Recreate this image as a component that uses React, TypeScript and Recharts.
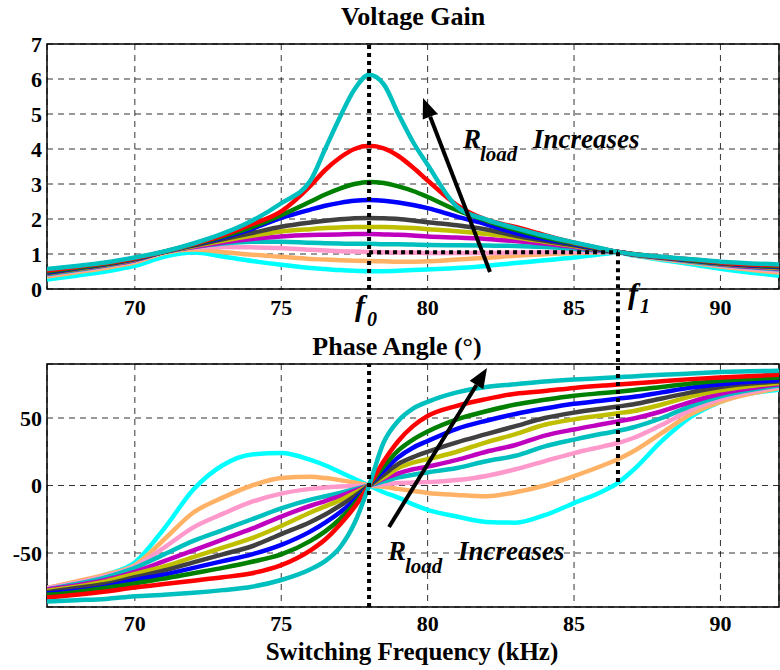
import React from 'react';
import { LineChart, Line, XAxis, YAxis, CartesianGrid, ReferenceLine, ReferenceArea } from 'recharts';

// switching frequency samples (kHz)
const freq = [67, 68, 69, 70, 71, 72, 73, 74, 75, 76, 76.5, 77, 77.5, 78, 78.5, 79, 79.5, 80, 81, 82, 83, 84, 85, 86, 86.5, 87, 88, 89, 90, 92];

// voltage gain, one array per load (largest R_load first)
const gain1 = [0.57, 0.66, 0.76, 0.9, 1.07, 1.3, 1.58, 1.95, 2.45, 3.1, 4.0, 4.9, 5.7, 6.12, 5.85, 5.0, 4.2, 3.55, 2.35, 1.98, 1.74, 1.52, 1.33, 1.15, 1.06, 1.0, 0.92, 0.85, 0.78, 0.7];
const gain2 = [0.53, 0.63, 0.74, 0.88, 1.06, 1.28, 1.53, 1.85, 2.22, 2.95, 3.4, 3.75, 4.0, 4.09, 4.02, 3.8, 3.47, 3.1, 2.4, 1.98, 1.77, 1.54, 1.32, 1.14, 1.06, 1.0, 0.91, 0.84, 0.76, 0.67];
const gain3 = [0.5, 0.61, 0.72, 0.87, 1.06, 1.27, 1.5, 1.77, 2.11, 2.5, 2.7, 2.87, 3.0, 3.06, 3.03, 2.93, 2.8, 2.63, 2.25, 1.95, 1.69, 1.48, 1.3, 1.13, 1.06, 1.0, 0.91, 0.83, 0.75, 0.65];
const gain4 = [0.48, 0.6, 0.71, 0.86, 1.06, 1.26, 1.47, 1.72, 2.03, 2.27, 2.38, 2.46, 2.52, 2.54, 2.52, 2.47, 2.4, 2.31, 2.07, 1.85, 1.6, 1.43, 1.28, 1.12, 1.06, 0.99, 0.9, 0.82, 0.74, 0.63];
const gain5 = [0.46, 0.58, 0.7, 0.85, 1.06, 1.24, 1.42, 1.6, 1.78, 1.9, 1.95, 1.99, 2.02, 2.03, 2.02, 2.0, 1.96, 1.91, 1.82, 1.7, 1.52, 1.38, 1.25, 1.11, 1.06, 0.99, 0.9, 0.81, 0.73, 0.62];
const gain6 = [0.45, 0.57, 0.69, 0.84, 1.06, 1.22, 1.38, 1.52, 1.64, 1.71, 1.74, 1.76, 1.77, 1.77, 1.77, 1.76, 1.74, 1.71, 1.65, 1.57, 1.47, 1.35, 1.23, 1.1, 1.06, 0.99, 0.89, 0.8, 0.72, 0.6];
const gain7 = [0.44, 0.56, 0.68, 0.83, 1.06, 1.2, 1.33, 1.43, 1.5, 1.54, 1.55, 1.56, 1.57, 1.57, 1.56, 1.55, 1.53, 1.5, 1.47, 1.43, 1.37, 1.3, 1.2, 1.09, 1.06, 0.99, 0.89, 0.8, 0.71, 0.58];
const gain8 = [0.42, 0.54, 0.67, 0.82, 1.06, 1.2, 1.3, 1.35, 1.35, 1.32, 1.31, 1.3, 1.29, 1.29, 1.28, 1.28, 1.27, 1.26, 1.25, 1.24, 1.23, 1.2, 1.15, 1.08, 1.06, 0.98, 0.88, 0.78, 0.69, 0.56];
const gain9 = [0.4, 0.52, 0.65, 0.8, 1.05, 1.18, 1.2, 1.19, 1.17, 1.12, 1.1, 1.08, 1.07, 1.06, 1.05, 1.04, 1.04, 1.03, 1.03, 1.03, 1.04, 1.05, 1.06, 1.06, 1.06, 0.98, 0.87, 0.77, 0.67, 0.52];
const gain10 = [0.36, 0.48, 0.6, 0.76, 1.03, 1.13, 1.06, 0.98, 0.92, 0.86, 0.84, 0.82, 0.81, 0.8, 0.79, 0.78, 0.78, 0.79, 0.84, 0.89, 0.95, 0.99, 1.03, 1.05, 1.06, 0.97, 0.86, 0.75, 0.64, 0.47];
const gain11 = [0.27, 0.38, 0.5, 0.66, 0.92, 1.04, 0.93, 0.8, 0.69, 0.6, 0.57, 0.54, 0.52, 0.51, 0.51, 0.52, 0.54, 0.56, 0.6, 0.66, 0.74, 0.82, 0.9, 1.0, 1.04, 0.96, 0.83, 0.71, 0.58, 0.38];

// phase angle in degrees, same order
const phase1 = [-86, -85, -84, -82, -81, -79.5, -77.5, -75, -70, -62, -56, -46, -28, 0, 32, 48, 57, 62, 69, 73, 75, 77, 78.5, 79.6, 80.2, 80.8, 82, 83, 84, 85];
const phase2 = [-83, -81, -78.5, -75.5, -73, -70.5, -68, -65, -59, -48, -40, -29, -16, 0, 18, 33, 44, 51.5, 59, 64, 68, 70, 72.3, 74, 74.8, 75.5, 77.2, 78.8, 80, 82];
const phase3 = [-81, -79, -76, -72.5, -69, -65, -61, -56.5, -51, -41, -34, -25, -13.5, 0, 14, 26, 34, 40, 49, 55, 60, 63.5, 66.5, 68.5, 69.5, 70.5, 73, 75.5, 77.5, 80];
const phase4 = [-80, -78, -75, -70, -66, -61, -56, -51, -44, -34, -27.5, -20, -11, 0, 11, 21, 28, 33, 42, 48, 53, 57, 60.5, 63, 64.3, 65.5, 69, 72.5, 75, 78];
const phase5 = [-79, -76, -73, -68, -63, -57, -51, -45, -36, -27, -21.5, -15, -8, 0, 8, 16, 21, 25, 32, 38, 44, 50, 54, 57, 58.5, 60, 64.5, 69, 73, 77];
const phase6 = [-78, -75, -71, -65.5, -60, -53, -46, -39, -30, -20, -15.5, -11, -5.5, 0, 6, 13, 17, 19.5, 25, 32, 38, 45, 49, 52, 53.5, 55, 60, 66, 70.5, 76];
const phase7 = [-77, -74, -70, -64, -56, -48, -40, -32, -23, -15, -11.5, -8, -4, 0, 5, 9, 12, 14, 19, 25, 30, 37, 41.5, 45.5, 47.5, 49.5, 55, 62, 68, 75];
const phase8 = [-77, -73, -68, -61, -51, -41, -33, -25, -17, -10.5, -8, -5.5, -2.8, 0, 3, 6, 8, 9.7, 13, 18, 22, 29, 34, 38.5, 40.5, 43, 50, 59, 66, 74];
const phase9 = [-76, -72, -67, -60, -46, -31, -21, -12, -6, -2.5, -1.5, -0.8, -0.3, 0, 1, 1.8, 2.2, 2.5, 4, 7, 12, 18, 24, 29, 31.5, 35, 45, 56, 64, 73];
const phase10 = [-76, -71, -66, -59, -40, -20, -9, 0, 5.5, 6.5, 5.5, 4, 2.2, 0, -1, -2.5, -4, -5.5, -7, -8, -5, 0, 7, 15, 19.5, 25, 39, 53, 62, 72];
const phase11 = [-76, -72, -66, -57, -32, -3, 15, 23, 24, 19, 15, 10, 5, 0, -5, -9, -14, -18, -23, -27, -27.5, -22, -13, -4, 2, 11, 33, 51, 62, 71];

const curveColors = ['#00BFBF', '#FF0000', '#008000', '#0000FF', '#404040', '#BFBF00', '#BF00BF', '#00BFBF', '#FF99CC', '#FFB266', '#00FFFF'];

const gainTicks = [0, 1, 2, 3, 4, 5, 6, 7];
const phaseTicks = [-50, 0, 50];
const freqTicks = [70, 75, 80, 85, 90];

const f0 = 78;
const f1 = 86.5;
const crossGain = 1.05;

const gainSets = [gain1, gain2, gain3, gain4, gain5, gain6, gain7, gain8, gain9, gain10, gain11];
const phaseSets = [phase1, phase2, phase3, phase4, phase5, phase6, phase7, phase8, phase9, phase10, phase11];

const gainRows = freq.map((f, i) => {
  const row: Record<string, number> = { f };
  gainSets.forEach((s, k) => { row[`c${k + 1}`] = s[i]; });
  return row;
});
const phaseRows = freq.map((f, i) => {
  const row: Record<string, number> = { f };
  phaseSets.forEach((s, k) => { row[`c${k + 1}`] = s[i]; });
  return row;
});

const serif = '"Liberation Serif", "Times New Roman", serif';
const tickStyle = { fill: '#000', fontSize: 22, fontWeight: 700, fontFamily: serif };
const dotted = { stroke: '#000', strokeWidth: 4, strokeDasharray: '4 4' };

// draw from last to first so the highest-gain curve sits on top
const drawOrder = curveColors.map((_, i) => curveColors.length - i);

function Arrow({ x1, y1, x2, y2 }: { x1: number; y1: number; x2: number; y2: number }) {
  const len = Math.hypot(x2 - x1, y2 - y1);
  const ux = (x2 - x1) / len;
  const uy = (y2 - y1) / len;
  const hl = 20;
  const hw = 8;
  const bx = x2 - ux * hl;
  const by = y2 - uy * hl;
  return (
    <g>
      <line x1={x1} y1={y1} x2={bx} y2={by} stroke="#000" strokeWidth={4} />
      <polygon points={`${x2},${y2} ${bx - uy * hw},${by + ux * hw} ${bx + uy * hw},${by - ux * hw}`} fill="#000" />
    </g>
  );
}

function RLoad({ x, y }: { x: number; y: number }) {
  return (
    <g fontFamily={serif} fontStyle="italic" fontWeight={700} fill="#000">
      <text x={x} y={y} fontSize={27}>R</text>
      <text x={x + 17} y={y + 13} fontSize={21}>load</text>
      <text x={x + 70} y={y} fontSize={27}>Increases</text>
    </g>
  );
}

export default function App() {
  return (
    <div style={{ position: 'absolute', left: 0, top: 0, width: 780, height: 670, background: '#fff' }}>
      <div style={{ position: 'absolute', left: 0, top: 0 }}>
        <LineChart width={780} height={320} data={gainRows} margin={{ top: 44, right: 1, bottom: 0, left: 7 }}>
          <CartesianGrid stroke="#000" strokeDasharray="6 5" strokeWidth={0.8} />
          <XAxis dataKey="f" type="number" domain={[67, 92]} ticks={freqTicks} height={31} tickLine={false} axisLine={false} tickSize={6} tickMargin={4} tick={tickStyle} allowDataOverflow />
          <YAxis type="number" domain={[0, 7]} ticks={gainTicks} width={40} tickLine={false} axisLine={false} tickSize={3} tickMargin={2} tick={tickStyle} allowDataOverflow />
          <ReferenceArea x1={67} x2={92} y1={0} y2={7} fill="none" stroke="#000" strokeWidth={1.5} />
          {drawOrder.map((n) => (
            <Line key={n} dataKey={`c${n}`} type="monotone" stroke={curveColors[n - 1]} strokeWidth={4.5} dot={false} isAnimationActive={false} />
          ))}
          <ReferenceLine x={f0} {...dotted} />
          <ReferenceLine segment={[{ x: f0, y: crossGain }, { x: f1, y: crossGain }]} {...dotted} />
          <ReferenceLine segment={[{ x: f1, y: crossGain }, { x: f1, y: -0.9 }]} ifOverflow="visible" {...dotted} />
        </LineChart>
      </div>
      <div style={{ position: 'absolute', left: 0, top: 320 }}>
        <LineChart width={780} height={350} data={phaseRows} margin={{ top: 44, right: 1, bottom: 32, left: 7 }}>
          <CartesianGrid stroke="#000" strokeDasharray="6 5" strokeWidth={0.8} />
          <XAxis dataKey="f" type="number" domain={[67, 92]} ticks={freqTicks} height={31} tickLine={false} axisLine={false} tickSize={6} tickMargin={2} tick={tickStyle} allowDataOverflow />
          <YAxis type="number" domain={[-90, 90]} ticks={phaseTicks} width={40} tickLine={false} axisLine={false} tickSize={3} tickMargin={2} tick={tickStyle} allowDataOverflow />
          <ReferenceArea x1={67} x2={92} y1={-90} y2={90} fill="none" stroke="#000" strokeWidth={1.5} />
          {drawOrder.map((n) => (
            <Line key={n} dataKey={`c${n}`} type="monotone" stroke={curveColors[n - 1]} strokeWidth={4.5} dot={false} isAnimationActive={false} />
          ))}
          <ReferenceLine x={f0} {...dotted} />
          <ReferenceLine segment={[{ x: f1, y: 124 }, { x: f1, y: 0 }]} ifOverflow="visible" {...dotted} />
        </LineChart>
      </div>
      <svg width={780} height={670} style={{ position: 'absolute', left: 0, top: 0, pointerEvents: 'none' }}>
        <g fontFamily={serif} fontWeight={700} fill="#000" textAnchor="middle">
          <text x={413} y={25} fontSize={26}>Voltage Gain</text>
          <text x={397} y={355} fontSize={26}>Phase Angle (°)</text>
          <text x={412} y={660} fontSize={25}>Switching Frequency (kHz)</text>
        </g>
        <g fontFamily={serif} fontStyle="italic" fontWeight={700} fill="#000">
          <text x={355} y={316} fontSize={30}>f</text>
          <text x={367} y={326} fontSize={20}>0</text>
          <text x={628} y={304} fontSize={30}>f</text>
          <text x={640} y={313} fontSize={20}>1</text>
        </g>
        <Arrow x1={490} y1={272} x2={423} y2={98} />
        <Arrow x1={389} y1={527} x2={487} y2={368} />
        <RLoad x={463} y={148} />
        <RLoad x={388} y={560} />
      </svg>
    </div>
  );
}
